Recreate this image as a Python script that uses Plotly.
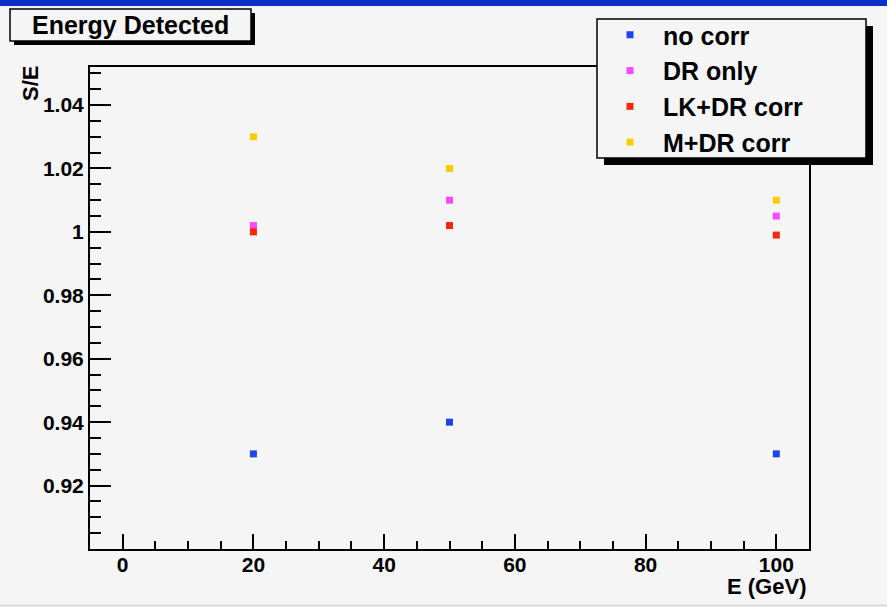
import plotly.graph_objects as go

# ---- data ----
energies = [20, 50, 100]
series_names = ["no corr", "DR only", "LK+DR corr", "M+DR corr"]
no_corr = [0.930, 0.940, 0.930]
dr_only = [1.002, 1.010, 1.005]
lk_dr_corr = [1.000, 1.002, 0.999]
m_dr_corr = [1.030, 1.020, 1.010]
series_values = [no_corr, dr_only, lk_dr_corr, m_dr_corr]
series_colors = ["#1c46e8", "#ff48ff", "#f22a0c", "#ffcc00"]
x_ticks = [0, 20, 40, 60, 80, 100]
y_ticks = [0.92, 0.94, 0.96, 0.98, 1.00, 1.02, 1.04]

FONT = "Liberation Sans"
BG = "#f5f5f5"

# pixel geometry -> paper coords
W, H = 887, 607
L, R, T, B = 90, 809, 67, 549
PW, PH = R - L, B - T


def px(x):
    return (x - L) / PW


def py(y):
    return (B - y) / PH


fig = go.Figure()
for name, vals, col in zip(series_names, series_values, series_colors):
    fig.add_trace(go.Scatter(
        x=energies, y=vals, mode="markers", name=name,
        marker=dict(symbol="square", size=7, color=col, line=dict(width=0)),
        legendgroup=name,
    ))

shapes = []
# top blue strip
shapes.append(dict(type="rect", xref="paper", yref="paper", x0=px(0), x1=px(W), y0=py(0), y1=py(6),
                   fillcolor="#0a2ec8", line=dict(width=0), layer="above"))
# bottom thin line
shapes.append(dict(type="line", xref="paper", yref="paper", x0=px(0), x1=px(W), y0=py(605.5), y1=py(605.5),
                   line=dict(color="#d4d4d4", width=1.5), layer="above"))
# title box shadow + box
shapes.append(dict(type="rect", xref="paper", yref="paper", x0=px(14), x1=px(255), y0=py(45), y1=py(13),
                   fillcolor="black", line=dict(width=0), layer="above"))
shapes.append(dict(type="rect", xref="paper", yref="paper", x0=px(10), x1=px(251), y0=py(41), y1=py(9),
                   fillcolor=BG, line=dict(color="black", width=1.5), layer="above"))
# legend box shadow + box
shapes.append(dict(type="rect", xref="paper", yref="paper", x0=px(604), x1=px(873), y0=py(165), y1=py(26),
                   fillcolor="black", line=dict(width=0), layer="above"))
shapes.append(dict(type="rect", xref="paper", yref="paper", x0=px(597), x1=px(866), y0=py(158), y1=py(19),
                   fillcolor=BG, line=dict(color="black", width=1.5), layer="above"))

annotations = [
    dict(text="Energy Detected", xref="paper", yref="paper", x=px(130), y=py(25),
         xanchor="center", yanchor="middle", showarrow=False,
         font=dict(family=FONT, size=25, color="black", weight="bold")),
    dict(text="S/E", xref="paper", yref="paper", x=px(30), y=py(84), textangle=-90,
         xanchor="center", yanchor="middle", showarrow=False,
         font=dict(family=FONT, size=22, color="black", weight="bold")),
    dict(text="E (GeV)", xref="paper", yref="paper", x=px(808), y=py(586),
         xanchor="right", yanchor="middle", showarrow=False,
         font=dict(family=FONT, size=22, color="black", weight="bold")),
]

tickfont = dict(family=FONT, size=21, color="black", weight="bold")

fig.update_layout(
    width=W, height=H,
    margin=dict(l=L, r=W - R, t=T, b=H - B, pad=0),
    paper_bgcolor=BG, plot_bgcolor=BG,
    shapes=shapes, annotations=annotations,
    showlegend=True,
    legend=dict(
        x=px(597), y=py(12), xanchor="left", yanchor="top",
        bgcolor="rgba(0,0,0,0)", borderwidth=0,
        font=dict(family=FONT, size=25, color="black", weight="bold"),
        traceorder="grouped", tracegroupgap=0.3, itemwidth=56,
    ),
    xaxis=dict(
        range=[-5, 105], tickvals=x_ticks, ticks="inside", ticklen=15, tickwidth=2,
        tickcolor="black", showline=True, linewidth=2, linecolor="black", mirror=True,
        showgrid=False, zeroline=False, tickfont=tickfont, ticklabelstandoff=-4,
        minor=dict(dtick=5, tick0=0, ticks="inside", ticklen=8, tickwidth=2, tickcolor="black", showgrid=False),
    ),
    yaxis=dict(
        range=[0.9, 1.052], tickvals=y_ticks, ticktext=[("%g" % v) for v in y_ticks],
        ticks="inside", ticklen=21, tickwidth=2,
        tickcolor="black", showline=True, linewidth=2, linecolor="black", mirror=True,
        showgrid=False, zeroline=False, tickfont=tickfont,
        minor=dict(dtick=0.005, tick0=0.9, ticks="inside", ticklen=11, tickwidth=2, tickcolor="black", showgrid=False),
    ),
)

fig.write_html("out.html")
